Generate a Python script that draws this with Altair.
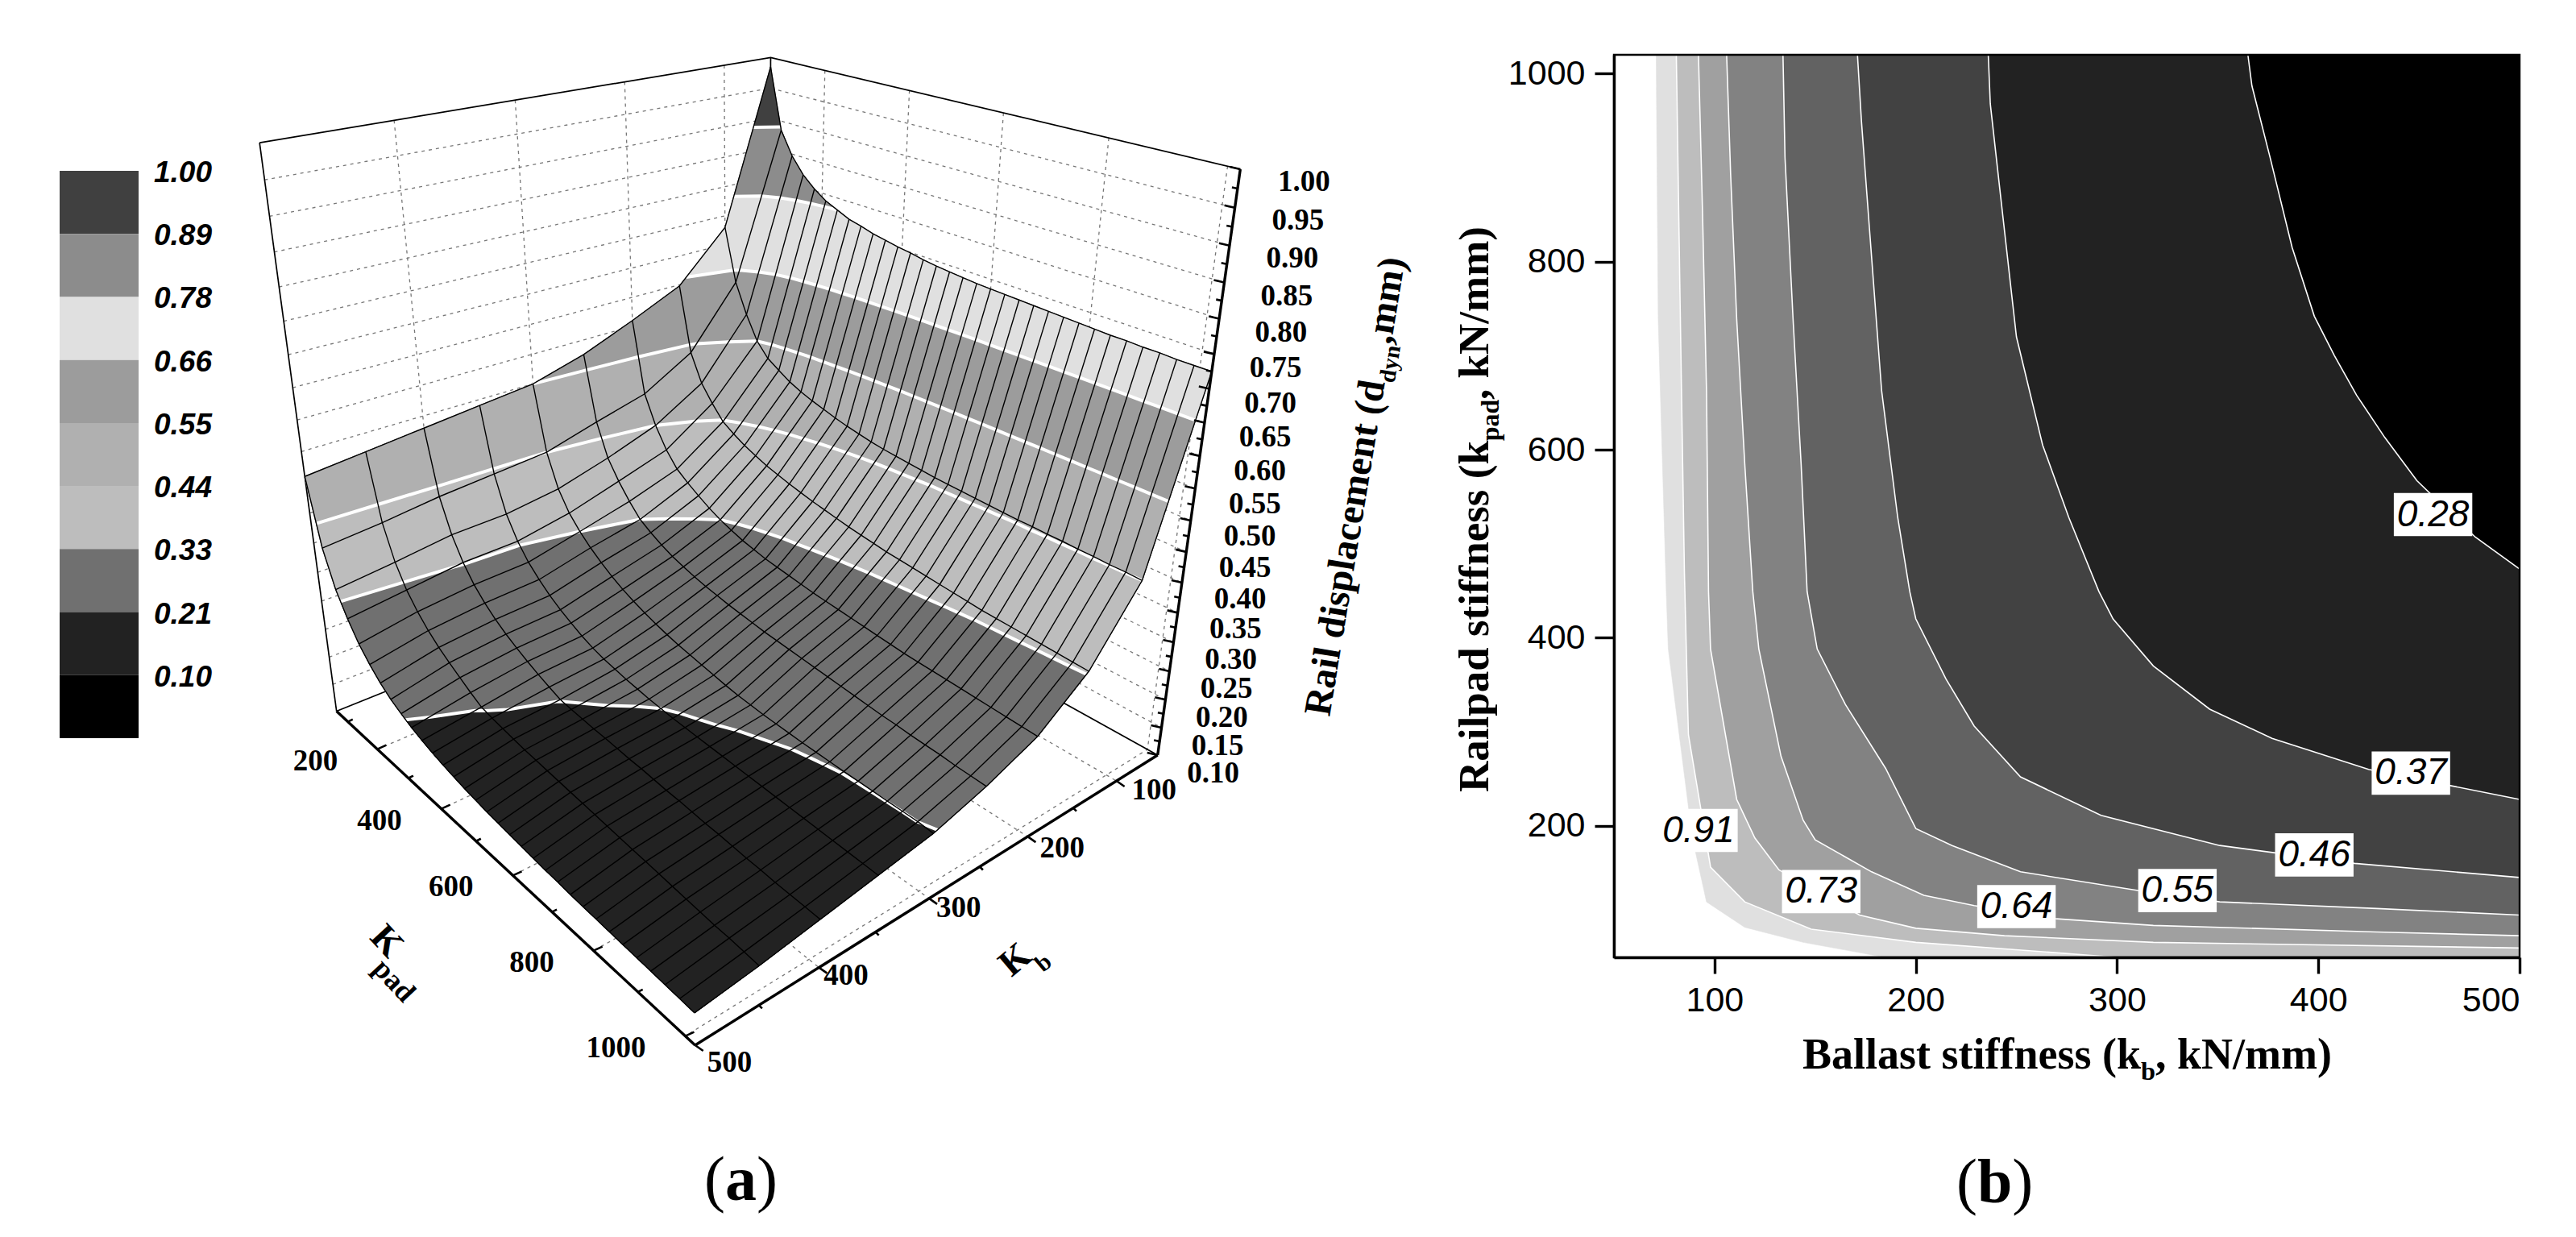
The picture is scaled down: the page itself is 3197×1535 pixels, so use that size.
import numpy as np
import pandas as pd
import altair as alt

W, H = 3181, 1510
M = 8  # page margin

# ---------- panel (a) data: displacement table, one list per ballast stiffness ----------
KB = [50, 100, 150, 200, 250, 300, 350, 400, 450, 500]
KPAD = list(range(60, 1021, 30))
Z050 = [.985,.885,.847,.821,.803,.789,.78,.771,.766,.76,.756,.752,.749,.745,.742,.74,.738,.736,.735,.734,.733,.732,.731,.73,.729,.728,.727,.727,.726,.726,.725,.725,.725]
Z100 = [.73,.64,.59,.55,.527,.514,.502,.493,.486,.48,.474,.469,.465,.461,.458,.456,.454,.452,.45,.449,.448,.447,.446,.445,.444,.444,.443,.443,.442,.442,.441,.441,.44]
Z150 = [.648,.537,.49,.462,.438,.425,.414,.405,.397,.391,.385,.38,.375,.371,.367,.363,.36,.357,.354,.352,.35,.348,.346,.344,.342,.34,.339,.338,.337,.336,.335,.334,.333]
Z200 = [.61,.488,.44,.405,.38,.365,.352,.34,.33,.322,.315,.31,.305,.302,.299,.296,.293,.291,.289,.287,.285,.283,.281,.279,.278,.277,.276,.275,.274,.273,.272,.271,.27]
Z250 = [.575,.465,.41,.378,.352,.33,.317,.306,.297,.29,.284,.279,.275,.271,.268,.265,.262,.26,.258,.256,.254,.252,.25,.248,.246,.244,.243,.241,.24,.239,.237,.236,.235]
Z300 = [.55,.44,.385,.352,.33,.312,.297,.284,.273,.264,.256,.249,.243,.238,.234,.23,.226,.222,.219,.217,.215,.214,.213,.212,.2115,.211,.2105,.2104,.2103,.2102,.2101,.2101,.208]
Z350 = [.54,.432,.372,.335,.309,.29,.274,.261,.25,.24,.232,.226,.222,.218,.215,.212,.21,.208,.207,.206,.205,.204,.203,.202,.201,.2,.199,.198,.197,.196,.195,.194,.193]
Z400 = [.53,.424,.369,.332,.305,.285,.269,.256,.245,.235,.226,.218,.2105,.208,.206,.204,.203,.201,.199,.198,.196,.194,.193,.191,.189,.188,.186,.184,.183,.181,.18,.179,.178]
Z450 = [.52,.412,.356,.32,.295,.275,.259,.246,.234,.222,.2115,.207,.204,.201,.198,.196,.194,.192,.19,.188,.186,.184,.182,.18,.178,.176,.174,.172,.17,.168,.167,.165,.163]
Z500 = [.51,.403,.345,.308,.278,.256,.238,.224,.214,.205,.198,.192,.187,.183,.179,.176,.173,.171,.169,.167,.165,.163,.162,.16,.159,.158,.157,.156,.155,.154,.153,.152,.151]
ZT = np.array([Z050, Z100, Z150, Z200, Z250, Z300, Z350, Z400, Z450, Z500])

LEVELS = [1.00, .89, .78, .66, .55, .44, .33, .21, .10]
LEVEL_TEXT = ["1.00", "0.89", "0.78", "0.66", "0.55", "0.44", "0.33", "0.21", "0.10"]
BAND_COLORS = ["#404040", "#8c8c8c", "#e0e0e0", "#9c9c9c", "#b0b0b0", "#bdbdbd", "#707070", "#222222", "#000000"]

# ---------- panel (b) data: contour lines (ballast, railpad) ----------
C28 = [(365,1020),(367,987),(376,911),(387,815),(398,742),(408,700),(419,658),(433,613),(449,567),(478,507),(500,473)]
C37 = [(236,1020),(237,968),(242,872),(250,720),(263,605),(276,528),(291,449),(298,420),(318,370),(346,324),(377,293),(425,260),(500,228)]
C46 = [(171,1020),(173,949),(177,834),(183,663),(191,528),(197,449),(200,420),(215,356),(229,306),(252,252),(292,211),(351,179),(418,160),(500,145)]
C55 = [(134,1020),(135,911),(139,739),(143,585),(146,449),(151,388),(165,329),(185,261),(200,197),(218,179),(252,151),(311,131),(351,119),(429,112),(500,105)]
C64 = [(106,1020),(108,892),(111,739),(115,585),(119,449),(122,388),(133,274),(144,206),(150,185),(178,151),(204,126),(229,115),(270,101),(318,94),(429,87),(500,83)]
C73 = [(92,1020),(94,854),(96,663),(97,449),(98,388),(111,228),(120,187),(132,153),(172,105),(200,91),(244,83),(318,76),(500,70)]
C82 = [(81,1020),(83,739),(85,471),(87,297),(98,156),(115,119),(148,90),(200,76),(263,66),(300,60)]
C91 = [(71,1020),(72,739),(76,449),(77,388),(89,187),(96,119),(115,92),(144,76),(185,60)]
CONTOURS = [C91, C82, C73, C64, C55, C46, C37, C28]
CONTOUR_FILL = ["#e0e0e0", "#bdbdbd", "#a0a0a0", "#828282", "#626262", "#424242", "#222222", "#000000"]
CLABEL_TEXT = ["0.28", "0.37", "0.46", "0.55", "0.64", "0.73", "0.91"]
CLABEL_KB = [457, 446, 398, 330, 250, 153, 92]
CLABEL_KPAD = [531, 256, 169, 131, 114, 130, 195]

# ---------- view of the 3D box: anchors ----------
VIEW = [
    (50,60,1,957,67),(500,60,1,322,178),(50,1020,1,1539,207),(500,60,.1,413,882),
    (50,1020,.1,1437,935),(500,1020,.1,858,1297),(50,60,.1,952,672),
    (100,1020,.1,1384,968),(200,1020,.1,1273,1037),(300,1020,.1,1155,1118),(400,1020,.1,1021,1207),
    (500,200,.1,471,928),(500,400,.1,549,1001),(500,600,.1,638,1084),(500,800,.1,737,1179),
    (400,60,1,489,150),(300,60,1,640,125),(200,60,1,775,103),(100,60,1,899,80),
    (50,200,1,1024,86),(50,400,1,1128,116),(50,600,1,1246,141.5),(50,800,1,1375,172),
    (50,1020,.5,1478,650),(50,1020,.3,1457,792),
]
rows = []
for kb, kp, z, X, Y in VIEW:
    v = [kb/500, kp/1000, z, 1]
    rows.append(v + [0,0,0,0] + [-X*a for a in v])
    rows.append([0,0,0,0] + v + [-Y*a for a in v])
P = np.linalg.svd(np.array(rows, float))[2][-1].reshape(3, 4)

def proj(kb, kp, z):
    u = P @ np.array([kb/500, kp/1000, z, 1.0])
    return u[0]/u[2] - M, u[1]/u[2] - M

def px(X, Y):
    return X - M, Y - M

# ---------- helpers ----------
def PX(f='x'):
    return alt.X(f, type='quantitative', scale=alt.Scale(domain=[0, W], range=[0, W], nice=False, zero=False), axis=None)
def PY(f='y'):
    return alt.Y(f, type='quantitative', scale=alt.Scale(domain=[0, H], range=[0, H], nice=False, zero=False), axis=None)

def lines(polys, **mk):
    rec = []
    for k, pl in enumerate(polys):
        for i, (x, y) in enumerate(pl):
            rec.append(dict(x=float(x), y=float(y), id=k, i=i))
    return alt.Chart(pd.DataFrame(rec)).mark_line(**mk).encode(PX(), PY(), detail='id:N', order='i:Q')

def polygon(pts, color, x=None, y=None):
    d = pd.DataFrame([dict(x=float(a), y=float(b), i=i) for i, (a, b) in enumerate(pts)])
    return alt.Chart(d).mark_line(fill=color, stroke=color, strokeWidth=0.6, interpolate='linear-closed').encode(
        x if x is not None else PX(), y if y is not None else PY(), order='i:Q')

def texts(items, font, size, weight='normal', style='normal', angle=0, align='left', baseline='alphabetic'):
    d = pd.DataFrame([dict(x=float(a), y=float(b), t=s) for (a, b, s) in items])
    return alt.Chart(d).mark_text(font=font, fontSize=size, fontWeight=weight, fontStyle=style, angle=angle,
                                  align=align, baseline=baseline, color='black').encode(PX(), PY(), text='t:N')

SERIF, SANS = "Liberation Serif", "Liberation Sans"
layers = []

# ---------- legend of panel (a) ----------
leg = pd.DataFrame(dict(a=list(range(9)), b=list(range(1, 10)), c=BAND_COLORS, l0=[0]*9, l1=[1]*9, t=LEVEL_TEXT))
lx = alt.Scale(domain=[0, 1], range=[74-M, 172-M], nice=False, zero=False)
ly = alt.Scale(domain=[0, 9], range=[212-M, 916-M], nice=False, zero=False)
layers.append(alt.Chart(leg).mark_rect().encode(
    alt.X('l0:Q', scale=lx, axis=None), alt.X2('l1:Q'),
    alt.Y('a:Q', scale=ly, axis=None), alt.Y2('b:Q'),
    alt.Fill('c:N', scale=None)))
layers.append(alt.Chart(leg).mark_text(font=SANS, fontSize=37, fontWeight='bold', fontStyle='italic', align='left', baseline='middle', dy=3, color='black').encode(
    x=alt.value(191-M), y=alt.Y('a:Q', scale=ly, axis=None), text='t:N'))

# ---------- back walls and floor of the box ----------
kp0, kp1, kb0, kb1, z0, z1 = 60, 1020, 50, 500, .1, 1.0
Z_TICKS = [round(.10 + .05*i, 2) for i in range(19)]
KB_GRID = [100, 200, 300, 400]
KP_GRID = [200, 400, 600, 800, 1000]
dash = []
for z in Z_TICKS[1:-1]:
    dash.append([proj(kb1, kp0, z), proj(kb0, kp0, z), proj(kb0, kp1, z)])
for k in KB_GRID:
    dash.append([proj(k, kp0, z1), proj(k, kp0, z0), proj(k, kp1, z0)])
for k in KP_GRID:
    dash.append([proj(kb0, k, z1), proj(kb0, k, z0), proj(kb1, k, z0)])
layers.append(lines(dash, color='#777777', strokeWidth=1.3, strokeDash=[4, 5]))
layers.append(lines([
    [proj(kb1, kp0, z1), proj(kb0, kp0, z1), proj(kb0, kp1, z1)],
    [proj(kb1, kp0, z0), proj(kb1, kp0, z1)],
    [proj(kb0, kp0, z0), proj(kb0, kp0, z1)],
    [proj(kb1, kp0, z0), proj(kb0, kp0, z0), proj(kb0, kp1, z0)],
], color='black', strokeWidth=1.7))

# ---------- surface: bands painted from the table ----------
n, m = ZT.shape
perim = [(i, 0) for i in range(n)] + [(n-1, j) for j in range(1, m)] + [(i, m-1) for i in range(n-2, -1, -1)] + [(0, j) for j in range(m-2, 0, -1)]

def iso(t):
    t = t + 1e-6
    out = []
    for i in range(n):
        for j in range(m-1):
            a, b = ZT[i, j], ZT[i, j+1]
            if (a-t)*(b-t) < 0:
                out.append((KB[i], KPAD[j] + (KPAD[j+1]-KPAD[j])*(a-t)/(a-b), t))
    for j in range(m):
        for i in range(n-1):
            a, b = ZT[i, j], ZT[i+1, j]
            if (a-t)*(b-t) < 0:
                out.append((KB[i] + (KB[i+1]-KB[i])*(a-t)/(a-b), KPAD[j], t))
    out.sort(key=lambda p: (p[0], -p[1]))
    return out

layers.append(polygon([proj(KB[i], KPAD[j], ZT[i, j]) for i, j in perim], BAND_COLORS[0]))
white = []
for lev, col in zip(LEVELS[1:8], BAND_COLORS[1:8]):
    line3d = iso(lev)
    arc = [proj(KB[i], KPAD[j], ZT[i, j]) for i, j in perim if ZT[i, j] <= lev]
    iso2d = [proj(*p) for p in line3d]
    layers.append(polygon(iso2d + arc, col))
    white.append(iso2d)
layers.append(lines(white, color='white', strokeWidth=4))
mesh = [[proj(KB[i], KPAD[j], ZT[i, j]) for j in range(m)] for i in range(n)]
mesh += [[proj(KB[i], KPAD[j], ZT[i, j]) for i in range(n)] for j in range(m)]
layers.append(lines(mesh, color='black', strokeWidth=1.4))

# ---------- pseudo axes of panel (a) ----------
layers.append(lines([
    [proj(kb0, kp1, z0), proj(kb0, kp1, z1)],
    [proj(kb1, kp0, z0), proj(kb1, kp1, z0)],
    [proj(kb1, kp1, z0), proj(kb0, kp1, z0)],
], color='black', strokeWidth=3.4))
ticks = []
for z in [round(.10 + .025*i, 3) for i in range(37)]:
    x, y = proj(kb0, kp1, z)
    major = abs(z*20 - round(z*20)) < 1e-6
    ticks.append([(x, y), (x - (13 if major else 7), y - (3 if major else 1.5))])
for k in range(100, 1001, 100):
    x, y = proj(kb1, k, z0)
    major = k % 200 == 0
    ticks.append([(x, y), (x + (11 if major else 6), y - (5 if major else 3))])
for k in range(100, 501, 50):
    x, y = proj(k, kp1, z0)
    major = k % 100 == 0
    ticks.append([(x, y), (x + (10 if major else 4), y + (7 if major else 4))])
layers.append(lines(ticks, color='black', strokeWidth=2.6))

zlab = []
for z in Z_TICKS:
    x, y = proj(kb0, kp1, z)
    f = (z - .1)/.9
    zlab.append((x + 69 + 10*f, y + 23 - 7*f, f"{z:.2f}"))
layers.append(texts(zlab, SERIF, 37, weight='bold', align='center', baseline='middle'))
KP_LABELS = [200, 400, 600, 800, 1000]
kplab = []
for k in KP_LABELS:
    x, y = proj(kb1, k, z0)
    kplab.append((x - 49, y + 15, str(k)))
layers.append(texts(kplab, SERIF, 37, weight='bold', align='right', baseline='middle'))
KB_LABELS = [100, 200, 300, 400, 500]
KB_LAB_DX = [19, 15, 9, 6, 15]
KB_LAB_DY = [12, 15, 12, 10, 22]
kblab = []
for k, dx, dy in zip(KB_LABELS, KB_LAB_DX, KB_LAB_DY):
    x, y = proj(k, kp1, z0)
    kblab.append((x + dx, y + dy, str(k)))
layers.append(texts(kblab, SERIF, 37, weight='bold', align='left', baseline='middle'))

# axis names of panel (a)
layers.append(texts([(*px(480, 1168), "K")], SERIF, 46, weight='bold', angle=47, align='center', baseline='middle'))
layers.append(texts([(*px(489, 1217), "pad")], SERIF, 36, weight='bold', angle=47, align='center', baseline='middle'))
layers.append(texts([(*px(1260, 1191), "K")], SERIF, 46, weight='bold', angle=320, align='center', baseline='middle'))
layers.append(texts([(*px(1295, 1195), "b")], SERIF, 30, weight='bold', angle=320, align='center', baseline='middle'))

EM = 48
tx, ty = .163, -.987
nx, ny = .987, .163
ax, ay = px(1650, 890)
layers.append(texts([(ax, ay, "Rail displacement (d")], SERIF, EM, weight='bold', angle=279.4))
s = 8.778*EM
layers.append(texts([(ax + tx*s + nx*.25*EM, ay + ty*s + ny*.25*EM, "dyn")], SERIF, .6*EM, weight='bold', angle=279.4))
s = 9.745*EM
layers.append(texts([(ax + tx*s, ay + ty*s, ",mm)")], SERIF, EM, weight='bold', angle=279.4))

# ---------- panel (b) ----------
bx = alt.Scale(domain=[50, 500], range=[2003-M, 3127-M], nice=False, zero=False)
by = alt.Scale(domain=[60, 1020], range=[1188-M, 68-M], nice=False, zero=False)
BX = alt.X('x', type='quantitative', scale=bx, axis=None)
BY = alt.Y('y', type='quantitative', scale=by, axis=None)
for c, col in zip(CONTOURS, CONTOUR_FILL):
    corner = [(500, 1020)] if c[-1][0] == 500 else [(500, 60), (500, 1020)]
    layers.append(polygon(c + corner, col, BX, BY))
rec = [dict(x=a, y=b, id=k, i=i) for k, c in enumerate(CONTOURS[1:]) for i, (a, b) in enumerate(c)]
layers.append(alt.Chart(pd.DataFrame(rec)).mark_line(color='white', strokeWidth=1.6).encode(BX, BY, detail='id:N', order='i:Q'))
cl = pd.DataFrame(dict(x=CLABEL_KB, y=CLABEL_KPAD, t=CLABEL_TEXT))
cl['x1'] = cl.x - 19.5
cl['x2'] = cl.x + 19.5
cl['y1'] = cl.y - 23
cl['y2'] = cl.y + 23
layers.append(alt.Chart(cl).mark_rect(fill='white').encode(
    alt.X('x1:Q', scale=bx, axis=None), alt.X2('x2:Q'), alt.Y('y1:Q', scale=by, axis=None), alt.Y2('y2:Q')))
layers.append(alt.Chart(cl).mark_text(font=SANS, fontSize=46, fontStyle='italic', color='black', align='center', baseline='middle').encode(BX, BY, text='t:N'))

frame = pd.DataFrame(dict(x1=[50], x2=[500], y1=[60], y2=[1020]))
axis_common = dict(grid=False, title=None, domainColor='black', tickColor='black', domainWidth=3.4, tickWidth=3.4,
                   labelFont=SANS, labelFontSize=43, labelColor='black', zindex=1, labelOverlap=False, format='d')
layers.append(alt.Chart(frame).mark_rect(fillOpacity=0, stroke='black', strokeWidth=2.4).encode(
    alt.X('x1:Q', scale=bx, axis=alt.Axis(values=[100, 200, 300, 400, 500], orient='bottom', offset=(1188-M)-H, tickSize=20, labelPadding=12, **axis_common)),
    alt.X2('x2:Q'),
    alt.Y('y1:Q', scale=by, axis=alt.Axis(values=[200, 400, 600, 800, 1000], orient='left', offset=-(2003-M), tickSize=24, labelPadding=12, **axis_common)),
    alt.Y2('y2:Q')))

# axis names of panel (b), with their subscripts
EB = 54
x0, y0 = px(2237, 1326)
layers.append(texts([(x0, y0, "Ballast stiffness (k")], SERIF, EB, weight='bold'))
layers.append(texts([(x0 + 7.778*EB, y0 + .25*EB, "b")], SERIF, .6*EB, weight='bold'))
layers.append(texts([(x0 + 8.112*EB, y0, ", kN/mm)")], SERIF, EB, weight='bold'))
EB = 53
x0, y0 = px(1847, 983)
layers.append(texts([(x0, y0, "Railpad stiffness (k")], SERIF, EB, weight='bold', angle=270))
layers.append(texts([(x0 + .25*EB, y0 - 8.223*EB, "pad")], SERIF, .6*EB, weight='bold', angle=270))
layers.append(texts([(x0, y0 - 9.19*EB, ", kN/mm)")], SERIF, EB, weight='bold', angle=270))

# panel letters
ES = 78
for start, base, letter, w in [(874, 1489, "a", .5), (2428, 1492, "b", .556)]:
    layers.append(texts([(*px(start, base), "(")], SERIF, ES))
    layers.append(texts([(*px(start + .333*ES, base), letter)], SERIF, ES, weight='bold'))
    layers.append(texts([(*px(start + (.333 + w)*ES, base), ")")], SERIF, ES))

chart = alt.layer(*layers).resolve_scale(x='independent', y='independent').properties(
    width=W, height=H, padding=0, background='white',
    autosize=alt.AutoSizeParams(type='none')
).configure_view(stroke=None)

chart.save("out.html", embed_options={"renderer": "svg", "actions": False})
